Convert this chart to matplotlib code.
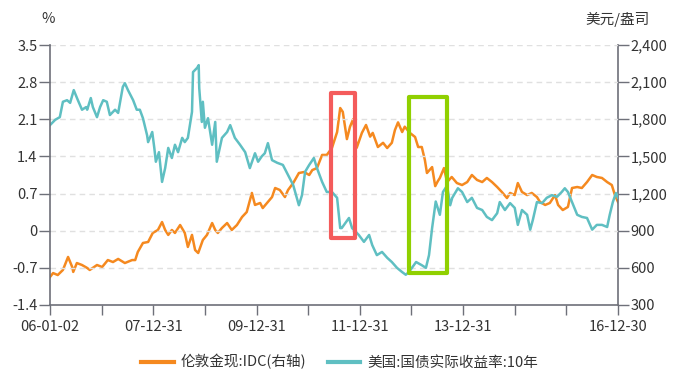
import matplotlib
matplotlib.use("Agg")
import matplotlib.pyplot as plt
from matplotlib.patches import Rectangle
from matplotlib.lines import Line2D
import matplotlib.ticker as mticker

plt.rcParams['font.family'] = ['Noto Sans CJK SC', 'DejaVu Sans']

# x values are decimal years (2006.0 = 06-01-02, 2017.0 = 16-12-30)
tips_years = [2006.00, 2006.10, 2006.19, 2006.25, 2006.33, 2006.39, 2006.46, 2006.54, 2006.62, 2006.70,
              2006.72, 2006.79, 2006.83, 2006.91, 2006.97, 2007.03, 2007.10, 2007.16, 2007.26, 2007.32,
              2007.41, 2007.45, 2007.51, 2007.61, 2007.68, 2007.74, 2007.80, 2007.88, 2007.90, 2007.98,
              2008.02, 2008.05, 2008.11, 2008.17, 2008.23, 2008.29, 2008.36, 2008.42, 2008.48, 2008.56,
              2008.61, 2008.67, 2008.75, 2008.77, 2008.85, 2008.88, 2008.89, 2008.94, 2008.96, 2009.00,
              2009.06, 2009.14, 2009.20, 2009.23, 2009.33, 2009.43, 2009.49, 2009.58, 2009.68, 2009.78,
              2009.87, 2009.97, 2010.03, 2010.10, 2010.16, 2010.22, 2010.30, 2010.40, 2010.51, 2010.61,
              2010.71, 2010.82, 2010.88, 2010.94, 2011.02, 2011.11, 2011.17, 2011.27, 2011.36, 2011.46,
              2011.56, 2011.62, 2011.65, 2011.73, 2011.79, 2011.85, 2011.98, 2012.08, 2012.18, 2012.24,
              2012.33, 2012.43, 2012.53, 2012.62, 2012.72, 2012.82, 2012.89, 2012.95, 2013.09, 2013.20,
              2013.28, 2013.34, 2013.40, 2013.47, 2013.55, 2013.61, 2013.69, 2013.75, 2013.79, 2013.90,
              2013.98, 2014.08, 2014.17, 2014.27, 2014.37, 2014.46, 2014.56, 2014.66, 2014.71, 2014.81,
              2014.91, 2015.00, 2015.06, 2015.14, 2015.24, 2015.30, 2015.35, 2015.43, 2015.53, 2015.62,
              2015.72, 2015.82, 2015.91, 2015.97, 2016.03, 2016.11, 2016.21, 2016.30, 2016.40, 2016.50,
              2016.59, 2016.69, 2016.79, 2016.84, 2016.90, 2016.96, 2017.00]
tips_yield = [1.99, 2.09, 2.14, 2.43, 2.46, 2.41, 2.65, 2.46, 2.28, 2.33,
              2.28, 2.50, 2.33, 2.14, 2.33, 2.46, 2.43, 2.18, 2.28, 2.22,
              2.71, 2.78, 2.65, 2.46, 2.28, 2.28, 2.12, 1.80, 1.67, 1.86,
              1.56, 1.30, 1.48, 0.92, 1.18, 1.56, 1.37, 1.62, 1.48, 1.75,
              1.67, 1.75, 2.24, 2.99, 3.07, 3.12, 2.69, 2.05, 2.43, 1.94,
              2.12, 1.62, 2.05, 1.30, 1.75, 1.86, 1.99, 1.75, 1.62, 1.48,
              1.18, 1.46, 1.30, 1.40, 1.46, 1.65, 1.33, 1.28, 1.24, 1.05,
              0.86, 0.48, 0.67, 1.11, 1.24, 1.37, 1.18, 0.92, 0.73, 0.73,
              0.62, 0.05, 0.05, 0.16, 0.24, 0.05, -0.08, -0.21, -0.08, -0.27,
              -0.46, -0.40, -0.51, -0.59, -0.70, -0.78, -0.83, -0.78, -0.59, -0.65,
              -0.70, -0.46, 0.05, 0.55, 0.30, 0.73, 0.85, 0.48, 0.62, 0.80,
              0.73, 0.54, 0.62, 0.43, 0.39, 0.26, 0.20, 0.33, 0.54, 0.39,
              0.52, 0.43, 0.11, 0.39, 0.30, 0.02, 0.20, 0.54, 0.52, 0.62,
              0.67, 0.64, 0.73, 0.80, 0.73, 0.54, 0.30, 0.26, 0.24, 0.02,
              0.11, 0.11, 0.07, 0.30, 0.54, 0.71, 0.62]

gold_years = [2006.00, 2006.06, 2006.15, 2006.25, 2006.35, 2006.43, 2006.45, 2006.52, 2006.62, 2006.72,
              2006.77, 2006.91, 2007.01, 2007.12, 2007.22, 2007.32, 2007.45, 2007.59, 2007.65, 2007.70,
              2007.80, 2007.90, 2007.99, 2008.09, 2008.17, 2008.23, 2008.29, 2008.36, 2008.42, 2008.52,
              2008.61, 2008.67, 2008.75, 2008.81, 2008.87, 2008.96, 2009.04, 2009.14, 2009.20, 2009.25,
              2009.33, 2009.43, 2009.52, 2009.62, 2009.72, 2009.81, 2009.91, 2009.97, 2010.07, 2010.12,
              2010.22, 2010.30, 2010.36, 2010.45, 2010.55, 2010.61, 2010.71, 2010.82, 2010.92, 2011.02,
              2011.08, 2011.17, 2011.27, 2011.36, 2011.46, 2011.56, 2011.62, 2011.67, 2011.75, 2011.81,
              2011.87, 2011.94, 2012.04, 2012.12, 2012.20, 2012.25, 2012.35, 2012.45, 2012.53, 2012.62,
              2012.68, 2012.74, 2012.82, 2012.87, 2012.97, 2013.07, 2013.13, 2013.20, 2013.26, 2013.30,
              2013.40, 2013.46, 2013.51, 2013.55, 2013.63, 2013.69, 2013.78, 2013.88, 2013.98, 2014.08,
              2014.17, 2014.27, 2014.37, 2014.46, 2014.56, 2014.66, 2014.75, 2014.85, 2014.91, 2015.00,
              2015.06, 2015.14, 2015.24, 2015.33, 2015.43, 2015.49, 2015.59, 2015.68, 2015.78, 2015.84,
              2015.93, 2016.03, 2016.11, 2016.21, 2016.30, 2016.40, 2016.50, 2016.59, 2016.69, 2016.79,
              2016.88, 2016.94, 2017.00]
gold_price = [526, 558, 542, 583, 688, 607, 567, 639, 623, 599,
              583, 623, 607, 663, 647, 672, 639, 663, 663, 728,
              801, 809, 882, 906, 970, 906, 866, 906, 882, 946,
              882, 769, 866, 744, 720, 825, 866, 962, 906, 882,
              922, 962, 906, 946, 1011, 1051, 1205, 1108, 1124, 1083,
              1132, 1172, 1245, 1229, 1172, 1229, 1285, 1366, 1374, 1350,
              1390, 1406, 1512, 1512, 1568, 1697, 1891, 1860, 1640, 1740,
              1800, 1570, 1690, 1754, 1660, 1690, 1576, 1610, 1568, 1610,
              1713, 1775, 1697, 1740, 1690, 1657, 1576, 1576, 1471, 1366,
              1414, 1260, 1300, 1326, 1406, 1293, 1334, 1285, 1269, 1293,
              1350, 1310, 1293, 1326, 1293, 1253, 1213, 1164, 1205, 1188,
              1285, 1213, 1188, 1205, 1172, 1132, 1108, 1124, 1188, 1108,
              1067, 1092, 1245, 1253, 1245, 1293, 1350, 1334, 1326, 1293,
              1269, 1188, 1132]

year_ticks = list(range(2006, 2018))
year_labels = ["06-01-02", "", "07-12-31", "", "09-12-31", "", "11-12-31", "", "13-12-31", "", "", "16-12-30"]
left_ticks = [-1.4, -0.7, 0, 0.7, 1.4, 2.1, 2.8, 3.5]
right_ticks = [300, 600, 900, 1200, 1500, 1800, 2100, 2400]

gold_name = "伦敦金现:IDC(右轴)"
tips_name = "美国:国债实际收益率:10年"

orange = "#f5891f"
teal = "#5fbfc2"
axis_col = "#6e7079"
text_col = "#333333"

fig = plt.figure(figsize=(6.8, 3.74), dpi=100)
ax = fig.add_axes([50/680, 1-305/374, 568/680, 260/374])
ax2 = ax.twinx()
ax.set_zorder(ax2.get_zorder() + 1)
ax.patch.set_visible(False)

ax2.plot(gold_years, gold_price, color=orange, lw=1.8, solid_joinstyle='round')
ax.plot(tips_years, tips_yield, color=teal, lw=1.8, solid_joinstyle='round')

ax.set_xlim(2006, 2017)
ax.set_ylim(-1.4, 3.5)
ax2.set_ylim(300, 2400)

ax.set_xticks(year_ticks)
ax.set_xticklabels(year_labels)
ax.set_yticks(left_ticks)
ax.set_yticklabels(["%g" % t for t in left_ticks])
ax2.set_yticks(right_ticks)
ax2.yaxis.set_major_formatter(mticker.FuncFormatter(lambda v, p: f"{int(v):,}"))

for t in left_ticks[1:]:
    ax.axhline(t, color="#e0e0e0", lw=1, ls=(0, (4, 3)), zorder=0)

for a in (ax, ax2):
    for s in a.spines.values():
        s.set_visible(False)
ax.spines['left'].set_visible(True)
ax.spines['bottom'].set_visible(True)
ax2.spines['right'].set_visible(True)
for s in (ax.spines['left'], ax.spines['bottom'], ax2.spines['right']):
    s.set_color(axis_col)
    s.set_linewidth(1.2)

ax.tick_params(axis='y', length=8, width=1, color=axis_col, labelcolor=text_col, labelsize=10.5, pad=1)
ax.tick_params(axis='x', length=7, width=1, color=axis_col, labelcolor=text_col, labelsize=10.5, pad=4)
ax2.tick_params(axis='y', length=8, width=1, color=axis_col, labelcolor=text_col, labelsize=10.5, pad=1)

# highlight boxes
ax.add_patch(Rectangle((2011.44, -0.14), 0.47, 2.74, fill=False, edgecolor="#f45b5b",
                       lw=3, joinstyle='round', zorder=5))
ax.add_patch(Rectangle((2012.95, -0.80), 0.74, 3.32, fill=False, edgecolor="#90d000",
                       lw=3, joinstyle='round', zorder=5))

fig.text(48/680, 1-19/374, "%", fontsize=10.5, color=text_col, ha='center', va='center')
fig.text(618/680, 1-19/374, "美元/盎司", fontsize=10.5, color=text_col, ha='center', va='center')

handles = [Line2D([], [], color=orange, lw=3), Line2D([], [], color=teal, lw=3)]
fig.legend(handles, [gold_name, tips_name], loc='center', bbox_to_anchor=(0.5, 1-362/374),
           ncol=2, frameon=False, fontsize=10.5, handlelength=2.2, handletextpad=0.5,
           columnspacing=1.5, labelcolor=text_col)

fig.savefig("out.png", dpi=100)
